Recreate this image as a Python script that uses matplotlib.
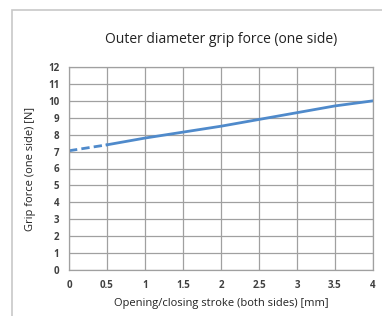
import matplotlib
matplotlib.use("Agg")
import matplotlib.pyplot as plt
from matplotlib.patches import Rectangle

# data
stroke_dash = [0, 0.5]
force_dash = [7.05, 7.4]
stroke = [0.5, 1, 1.5, 2, 2.5, 3, 3.5, 4]
force = [7.4, 7.8, 8.15, 8.5, 8.9, 9.3, 9.7, 10.0]
xticks = [0, 0.5, 1, 1.5, 2, 2.5, 3, 3.5, 4]
xlabels = ["0", "0.5", "1", "1.5", "2", "2.5", "3", "3.5", "4"]
yticks = list(range(0, 13))

plt.rcParams['font.family'] = ['Open Sans', 'DejaVu Sans']

fig = plt.figure(figsize=(3.82, 3.16), dpi=100)
fig.patches.append(Rectangle((12/382, -0.1), 1.0, 1 - 10/316 + 0.1,
                             transform=fig.transFigure, fill=False,
                             edgecolor="#c8c8c8", linewidth=1.2))

ax = fig.add_axes([69/382, 1 - 270/316, (373-69)/382, (270-67)/316])
line_col = "#4f8acb"
ax.plot(stroke_dash, force_dash, color=line_col, lw=2, ls=(0, (3, 1.5)))
ax.plot(stroke, force, color=line_col, lw=2)

ax.set_xlim(0, 4)
ax.set_ylim(0, 12)
ax.set_xticks(xticks)
ax.set_xticklabels(xlabels)
ax.set_yticks(yticks)
ax.grid(True, color="#a0a0a0", lw=0.9)
ax.set_axisbelow(True)
for s in ax.spines.values():
    s.set_color("#a0a0a0")
    s.set_linewidth(0.9)
ax.tick_params(length=0, labelsize=7, colors="#404040", pad=7)
for t in ax.get_xticklabels() + ax.get_yticklabels():
    t.set_fontweight("bold")

ax.set_title("Outer diameter grip force (one side)", fontsize=10, pad=17, color="#222222")
ax.set_xlabel("Opening/closing stroke (both sides) [mm]", fontsize=8, labelpad=5, color="#222222")
ax.set_ylabel("Grip force (one side) [N]", fontsize=8, labelpad=9, color="#222222")

fig.savefig("out.png", dpi=100)
